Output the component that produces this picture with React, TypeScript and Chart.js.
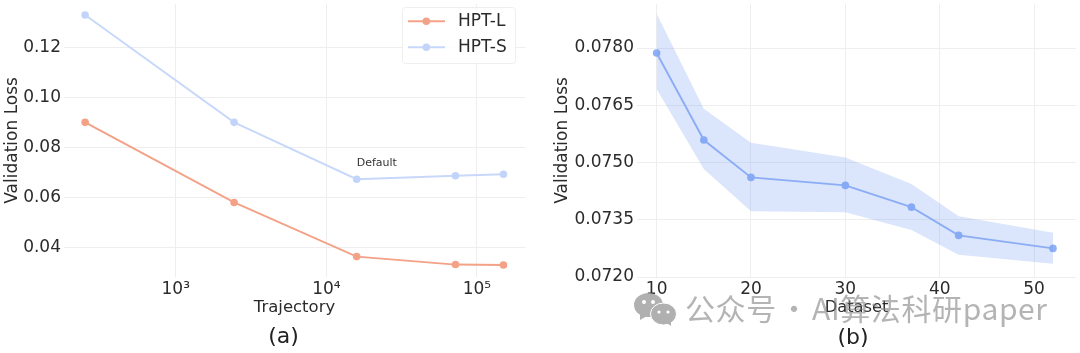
import React, { useEffect, useRef } from "react";
import { Chart, registerables } from "chart.js";

Chart.register(...registerables);

const FONT = "'DejaVu Sans'";
const TEXT = "#2b2b2b";
const GRID = "#eeeeee";

const trajectory = [250, 2440, 15900, 72000, 150000];
const hptL = [0.09, 0.0579, 0.0362, 0.033, 0.0328];
const hptS = [0.133, 0.09, 0.0672, 0.0686, 0.0692];
const trajectoryTicks = [1000, 10000, 100000];
const superscriptLabels = ["10³", "10⁴", "10⁵"];

const datasetSizes = [10, 15, 20, 30, 37, 42, 52];
const lossMean = [0.07787, 0.07559, 0.07461, 0.0744, 0.07383, 0.07309, 0.07275];
const lossUpper = [0.0789, 0.07641, 0.07552, 0.07513, 0.07444, 0.07359, 0.07316];
const lossLower = [0.07693, 0.07483, 0.07372, 0.0737, 0.07323, 0.07258, 0.07235];
const lossTicks = [0.072, 0.0735, 0.075, 0.0765, 0.078];

const toXY = (xs: number[], ys: number[]) => xs.map((x, i) => ({ x, y: ys[i] }));

const fixedBox = (w?: number, h?: number) => (scale: any) => {
  if (w !== undefined) scale.width = w;
  if (h !== undefined) scale.height = h;
  scale.paddingTop = 0;
  scale.paddingBottom = 0;
  scale.paddingLeft = 0;
  scale.paddingRight = 0;
};

const annotationAndLegend = {
  id: "annotationAndLegend",
  afterDatasetsDraw(chart: any) {
    const { ctx, scales } = chart;
    ctx.save();
    ctx.fillStyle = "#333";
    ctx.font = `11px ${FONT}`;
    ctx.textBaseline = "alphabetic";
    ctx.fillText("Default", scales.x.getPixelForValue(15900), scales.y.getPixelForValue(0.0726));

    const bx = 402, by = 7, bw = 113, bh = 56;
    ctx.fillStyle = "rgba(255,255,255,0.85)";
    ctx.strokeStyle = "#eeeeee";
    ctx.lineWidth = 1;
    ctx.beginPath();
    ctx.roundRect(bx + 0.5, by + 0.5, bw, bh, 3);
    ctx.fill();
    ctx.stroke();
    chart.data.datasets.forEach((d: any, i: number) => {
      const y = by + 14.3 + i * 26;
      ctx.strokeStyle = d.borderColor;
      ctx.lineWidth = 2;
      ctx.beginPath();
      ctx.moveTo(bx + 6, y);
      ctx.lineTo(bx + 43, y);
      ctx.stroke();
      ctx.fillStyle = d.backgroundColor;
      ctx.beginPath();
      ctx.arc(bx + 24.3, y, 3.8, 0, Math.PI * 2);
      ctx.fill();
      ctx.fillStyle = TEXT;
      ctx.font = `17px ${FONT}`;
      ctx.textBaseline = "middle";
      ctx.fillText(d.label, bx + 56, y + 0.5);
    });
    ctx.restore();
  },
};

export default function App() {
  const leftRef = useRef<HTMLCanvasElement>(null);
  const rightRef = useRef<HTMLCanvasElement>(null);

  useEffect(() => {
    const tickFont = { family: FONT, size: 17 };
    const point = { pointRadius: 3.8, pointHoverRadius: 3.8, pointBorderWidth: 0 };
    const left = new Chart(leftRef.current!, {
      type: "line",
      plugins: [annotationAndLegend],
      data: {
        datasets: [
          { label: "HPT-L", data: toXY(trajectory, hptL), borderColor: "#f3a287", backgroundColor: "#f3a287", borderWidth: 1.9, ...point },
          { label: "HPT-S", data: toXY(trajectory, hptS), borderColor: "#c8d8fb", backgroundColor: "#c3d4fb", borderWidth: 1.9, ...point },
        ],
      },
      options: {
        animation: false,
        responsive: false,
        layout: { padding: { left: 0, right: 10, top: 0, bottom: 0 } },
        plugins: { legend: { display: false }, tooltip: { enabled: false } },
        scales: {
          x: {
            type: "logarithmic",
            min: 181,
            max: 208500,
            afterFit: fixedBox(undefined, 76),
            afterBuildTicks: (s: any) => { s.ticks = trajectoryTicks.map((value) => ({ value, major: true })); },
            grid: { color: GRID, drawTicks: false },
            border: { display: false },
            ticks: {
              padding: 2, color: TEXT, font: tickFont, maxRotation: 0, autoSkip: false,
              callback: (v: any) => superscriptLabels[trajectoryTicks.indexOf(Number(v))] ?? "",
            },
            title: { display: true, text: "Trajectory", color: TEXT, font: { family: FONT, size: 16.5 }, padding: { top: 0, bottom: 35.5 } },
          },
          y: {
            min: 0.02802,
            max: 0.1375,
            afterFit: fixedBox(64),
            afterBuildTicks: (s: any) => { s.ticks = [0.04, 0.06, 0.08, 0.1, 0.12].map((value) => ({ value })); },
            grid: { color: GRID, drawTicks: false },
            border: { display: false },
            ticks: { padding: 3, color: TEXT, font: tickFont, callback: (v: any) => Number(v).toFixed(2) },
            title: { display: true, text: "Validation Loss", color: TEXT, font: { family: FONT, size: 17 }, padding: { top: 2, bottom: 0 } },
          },
        },
      },
    } as any);

    const right = new Chart(rightRef.current!, {
      type: "line",
      data: {
        datasets: [
          { label: "upper", data: toXY(datasetSizes, lossUpper), borderWidth: 0, pointRadius: 0, fill: "+1", backgroundColor: "rgba(110,150,240,0.25)" },
          { label: "lower", data: toXY(datasetSizes, lossLower), borderWidth: 0, pointRadius: 0, fill: false },
          { label: "mean", data: toXY(datasetSizes, lossMean), borderColor: "#96b5f7", backgroundColor: "#8fb0f7", borderWidth: 1.9, ...point, fill: false },
        ],
      },
      options: {
        animation: false,
        responsive: false,
        layout: { padding: { left: 0, right: 2, top: 0, bottom: 0 } },
        plugins: { legend: { display: false }, tooltip: { enabled: false } },
        scales: {
          x: {
            type: "linear",
            min: 7.92,
            max: 54.46,
            afterFit: fixedBox(undefined, 76),
            afterBuildTicks: (s: any) => { s.ticks = [10, 20, 30, 40, 50].map((value) => ({ value })); },
            grid: { color: GRID, drawTicks: false },
            border: { display: false },
            ticks: { padding: 2, color: TEXT, font: tickFont, maxRotation: 0, autoSkip: false },
            title: { display: true, text: "Dataset", color: TEXT, font: { family: FONT, size: 16.3 }, padding: { top: 0, bottom: 35.5 } },
          },
          y: {
            min: 0.072,
            max: 0.07916,
            afterFit: fixedBox(97),
            afterBuildTicks: (s: any) => { s.ticks = lossTicks.map((value) => ({ value })); },
            grid: { color: GRID, drawTicks: false },
            border: { display: false },
            ticks: { padding: 3, color: TEXT, font: tickFont, callback: (v: any) => Number(v).toFixed(4) },
            title: { display: true, text: "Validation Loss", color: TEXT, font: { family: FONT, size: 17 }, padding: { top: 12, bottom: 0 } },
          },
        },
      },
    } as any);

    return () => {
      left.destroy();
      right.destroy();
    };
  }, []);

  const label = (x: number, top: number, text: string) => (
    <div style={{ position: "absolute", left: x, top, transform: "translateX(-50%)", font: `22px ${FONT}`, color: "#222" }}>{text}</div>
  );

  return (
    <div style={{ position: "fixed", left: 0, top: 0, width: 1080, height: 353, background: "#fff", overflow: "hidden", filter: "blur(0.45px)" }}>
      <canvas ref={leftRef} width={535} height={353} style={{ position: "absolute", left: 0, top: 0 }} />
      <canvas ref={rightRef} width={540} height={353} style={{ position: "absolute", left: 540, top: 0 }} />
      {label(283.5, 323, "(a)")}
      {label(853, 324, "(b)")}
      <svg width="44" height="34" viewBox="0 0 44 34" style={{ position: "absolute", left: 634, top: 292.5, opacity: 0.9 }}>
        <ellipse cx="14.5" cy="12" rx="14.5" ry="12" fill="#a8a8a8" />
        <path d="M6 20 L6 27 L13 23 Z" fill="#a8a8a8" />
        <ellipse cx="29.5" cy="21" rx="13" ry="11" fill="#a8a8a8" stroke="#fff" strokeWidth="1" />
        <path d="M33 30 L37 33 L37 27 Z" fill="#a8a8a8" />
        <circle cx="10" cy="9" r="2" fill="#fff" />
        <circle cx="19" cy="9" r="2" fill="#fff" />
        <circle cx="25" cy="19" r="1.6" fill="#fff" />
        <circle cx="34" cy="19" r="1.6" fill="#fff" />
      </svg>
      <div style={{ position: "absolute", left: 685, top: 285, font: `30px 'Noto Sans CJK SC'`, color: "rgba(130,130,130,0.6)", whiteSpace: "nowrap", letterSpacing: 0.6, wordSpacing: -5 }}>公众号 · AI算法科研paper</div>
    </div>
  );
}
